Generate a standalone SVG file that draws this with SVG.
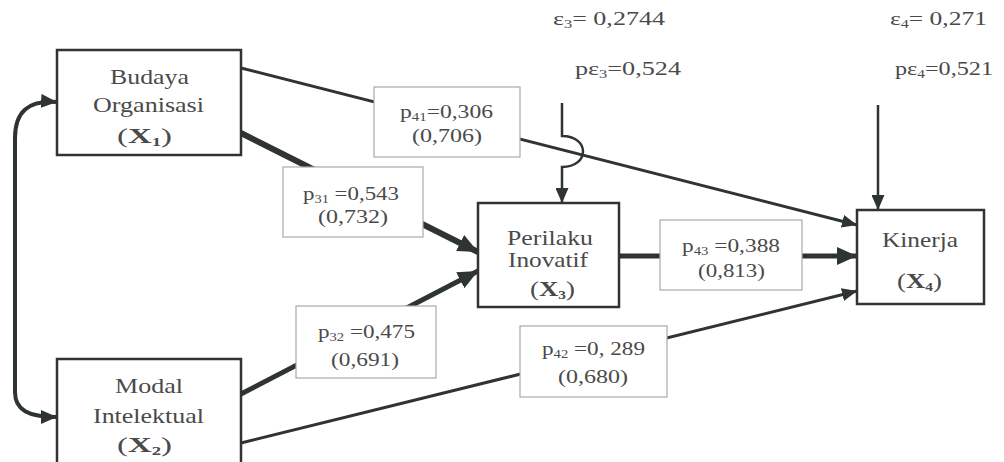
<svg xmlns="http://www.w3.org/2000/svg" width="1004" height="462" viewBox="0 0 1004 462">
<style>
.node rect{fill:#fff;stroke:#333;stroke-width:2.5}
.lbl rect{fill:#fff;stroke:#aaa;stroke-width:1.2}
text{font-family:"Liberation Serif","Times New Roman",serif;fill:#4a4a4a}
.nt{font-size:21px}
.lt{font-size:19px}
.sub{font-size:12px}
.b{font-weight:bold}
.c{fill:none;stroke:#2e3432}
</style>
<defs>
<marker id="ah" markerUnits="userSpaceOnUse" markerWidth="15" markerHeight="13" refX="15" refY="6.5" orient="auto"><path d="M0,0 L15,6.5 L0,13 z" fill="#2e3432"/></marker>
<marker id="ahb" markerUnits="userSpaceOnUse" markerWidth="20" markerHeight="18" refX="20" refY="9" orient="auto"><path d="M0,0 L20,9 L0,18 z" fill="#2e3432"/></marker>
<marker id="ahs" markerUnits="userSpaceOnUse" markerWidth="16" markerHeight="14" refX="16" refY="7" orient="auto-start-reverse"><path d="M0,0 L16,7 L0,14 z" fill="#2e3432"/></marker>
</defs>
<rect width="1004" height="462" fill="#fff"/>
<g id="connectors">
<path class="c" stroke-width="3" d="M241,68 L857,225" marker-end="url(#ah)"/>
<path class="c" stroke-width="6" d="M241,133 L478,252" marker-end="url(#ahb)"/>
<path class="c" stroke-width="5" d="M241,394 L478,271" marker-end="url(#ahb)"/>
<path class="c" stroke-width="3" d="M241,443 L857,291" marker-end="url(#ah)"/>
<path class="c" stroke-width="5" d="M619,256 L857,256" marker-end="url(#ahb)"/>
<path class="c" stroke-width="2.5" d="M562,103 V136 C590,136 590,167 562,167 V203" marker-end="url(#ah)"/>
<path class="c" stroke-width="2.5" d="M878,105 V210" marker-end="url(#ah)"/>
<path class="c" stroke-width="4" d="M57,102 C28,100 15,112 15,138 L15,392 C15,410 28,417 57,417" marker-start="url(#ahs)" marker-end="url(#ahs)"/>
</g>
<g id="labels">
<g id="lbl-p41" class="lbl"><rect x="374" y="87" width="146" height="70"/>
<text class="lt" x="400" y="118" textLength="93" lengthAdjust="spacingAndGlyphs">p<tspan class="sub" dy="3">41</tspan><tspan dy="-3">=0,306</tspan></text>
<text class="lt" x="412" y="142" textLength="70" lengthAdjust="spacingAndGlyphs">(0,706)</text></g>
<g id="lbl-p31" class="lbl"><rect x="283" y="167" width="140" height="70"/>
<text class="lt" x="303" y="200" textLength="96" lengthAdjust="spacingAndGlyphs">p<tspan class="sub" dy="3">31</tspan><tspan dy="-3"> =0,543</tspan></text>
<text class="lt" x="318" y="223" textLength="70" lengthAdjust="spacingAndGlyphs">(0,732)</text></g>
<g id="lbl-p32" class="lbl"><rect x="296" y="306" width="140" height="72"/>
<text class="lt" x="318" y="338" textLength="97" lengthAdjust="spacingAndGlyphs">p<tspan class="sub" dy="3">32</tspan><tspan dy="-3"> =0,475</tspan></text>
<text class="lt" x="331" y="366" textLength="68" lengthAdjust="spacingAndGlyphs">(0,691)</text></g>
<g id="lbl-p42" class="lbl"><rect x="520" y="326" width="147" height="71"/>
<text class="lt" x="542" y="355" textLength="103" lengthAdjust="spacingAndGlyphs">p<tspan class="sub" dy="3">42</tspan><tspan dy="-3"> =0, 289</tspan></text>
<text class="lt" x="558" y="383" textLength="70" lengthAdjust="spacingAndGlyphs">(0,680)</text></g>
<g id="lbl-p43" class="lbl"><rect x="660" y="220" width="142" height="70"/>
<text class="lt" x="682" y="252" textLength="98" lengthAdjust="spacingAndGlyphs">p<tspan class="sub" dy="3">43</tspan><tspan dy="-3"> =0,388</tspan></text>
<text class="lt" x="698" y="277" textLength="67" lengthAdjust="spacingAndGlyphs">(0,813)</text></g>
</g>
<g id="node-x1" class="node"><rect x="57" y="50" width="184" height="105"/>
<text class="nt" x="110" y="84" textLength="79" lengthAdjust="spacingAndGlyphs">Budaya</text>
<text class="nt" x="93" y="112" textLength="111" lengthAdjust="spacingAndGlyphs">Organisasi</text>
<text class="nt" x="117" y="143" textLength="55" lengthAdjust="spacingAndGlyphs">(<tspan class="b">X</tspan><tspan class="sub b" dy="3">1</tspan><tspan dy="-3">)</tspan></text></g>
<g id="node-x2" class="node"><rect x="57" y="359" width="184" height="112"/>
<text class="nt" x="115" y="393" textLength="68" lengthAdjust="spacingAndGlyphs">Modal</text>
<text class="nt" x="93" y="423" textLength="111" lengthAdjust="spacingAndGlyphs">Intelektual</text>
<text class="nt" x="117" y="452" textLength="55" lengthAdjust="spacingAndGlyphs">(<tspan class="b">X</tspan><tspan class="sub b" dy="3">2</tspan><tspan dy="-3">)</tspan></text></g>
<g id="node-x3" class="node"><rect x="478" y="203" width="141" height="104"/>
<text class="nt" x="507" y="245" textLength="86" lengthAdjust="spacingAndGlyphs">Perilaku</text>
<text class="nt" x="508" y="267" textLength="80" lengthAdjust="spacingAndGlyphs">Inovatif</text>
<text class="nt" x="530" y="296" textLength="45" lengthAdjust="spacingAndGlyphs">(<tspan class="b">X</tspan><tspan class="sub b" dy="3">3</tspan><tspan dy="-3">)</tspan></text></g>
<g id="node-x4" class="node"><rect x="857" y="210" width="127" height="94"/>
<text class="nt" x="882" y="247" textLength="76" lengthAdjust="spacingAndGlyphs">Kinerja</text>
<text class="nt" x="897" y="288" textLength="45" lengthAdjust="spacingAndGlyphs">(<tspan class="b">X</tspan><tspan class="sub b" dy="3">4</tspan><tspan dy="-3">)</tspan></text></g>
<g id="errors">
<text class="lt" x="553" y="25" textLength="112" lengthAdjust="spacingAndGlyphs">ε<tspan class="sub" dy="3">3</tspan><tspan dy="-3">= 0,2744</tspan></text>
<text class="lt" x="575" y="75" textLength="106" lengthAdjust="spacingAndGlyphs">pε<tspan class="sub" dy="3">3</tspan><tspan dy="-3">=0,524</tspan></text>
<text class="lt" x="890" y="25" textLength="97" lengthAdjust="spacingAndGlyphs">ε<tspan class="sub" dy="3">4</tspan><tspan dy="-3">= 0,271</tspan></text>
<text class="lt" x="895" y="75" textLength="98" lengthAdjust="spacingAndGlyphs">pε<tspan class="sub" dy="3">4</tspan><tspan dy="-3">=0,521</tspan></text>
</g>
</svg>
